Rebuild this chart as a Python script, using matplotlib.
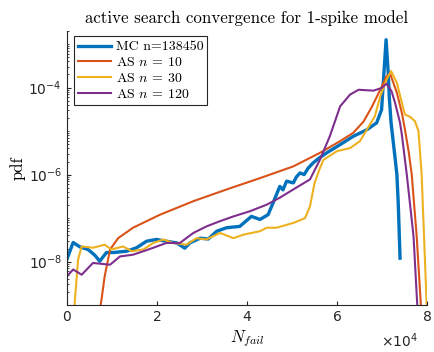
import numpy as np
import matplotlib
matplotlib.use("Agg")
import matplotlib.pyplot as plt
from matplotlib.ticker import FixedLocator, LogLocator, NullFormatter

plt.rcParams['axes.formatter.use_mathtext'] = True

# N_fail in units of 1e4, pdf as log10 values
mc_x = [0.00, 0.14, 0.29, 0.47, 0.62, 0.73, 0.88, 1.03, 1.33, 1.55, 1.77, 1.99,
        2.21, 2.44, 2.62, 2.73, 2.96, 3.14, 3.33, 3.55, 3.84, 4.10, 4.29, 4.47,
        4.58, 4.73, 4.80, 4.88, 5.03, 5.10, 5.18, 5.27, 5.36, 5.47, 5.60, 5.77,
        6.07, 6.36, 6.66, 6.88, 6.99, 7.04, 7.09, 7.14, 7.16, 7.20, 7.29, 7.33,
        7.36, 7.40]
mc_logy = [-7.95, -7.56, -7.66, -7.72, -7.85, -7.99, -7.79, -7.79, -7.76, -7.68,
           -7.53, -7.49, -7.53, -7.57, -7.69, -7.57, -7.46, -7.48, -7.30, -7.22,
           -7.19, -6.96, -7.03, -6.92, -6.65, -6.27, -6.35, -6.15, -6.19, -6.05,
           -5.96, -6.00, -5.85, -5.73, -5.62, -5.50, -5.31, -5.12, -4.97, -4.81,
           -4.51, -3.70, -2.90, -3.70, -4.20, -4.80, -5.62, -6.00, -6.65, -7.92]

as10_x = [0.72, 0.77, 0.84, 0.96, 1.14, 1.47, 2.07, 2.81, 3.55, 4.29, 5.03, 5.62,
          6.07, 6.36, 6.59, 6.77, 6.96, 7.10, 7.18, 7.33, 7.44, 7.51, 7.59, 7.66,
          7.77, 7.86, 7.88]
as10_logy = [-9.2, -8.87, -8.34, -7.72, -7.46, -7.22, -6.92, -6.61, -6.34, -6.08,
             -5.81, -5.50, -5.23, -5.04, -4.78, -4.45, -4.05, -3.74, -3.68, -4.12,
             -4.58, -4.97, -5.46, -6.00, -7.42, -8.95, -9.2]

as30_x = [0.16, 0.18, 0.25, 0.33, 0.58, 0.84, 0.99, 1.25, 1.44, 1.70, 1.92, 2.14,
          2.36, 2.66, 2.88, 3.10, 3.40, 3.70, 3.92, 4.29, 4.44, 4.66, 5.03, 5.29,
          5.40, 5.50, 5.62, 5.70, 6.00, 6.29, 6.51, 6.73, 6.84, 6.96, 7.10, 7.20,
          7.33, 7.44, 7.51, 7.62, 7.73, 7.81, 7.88, 7.99, 8.01]
as30_logy = [-9.2, -8.87, -7.95, -7.65, -7.68, -7.61, -7.72, -7.65, -7.76, -7.72,
             -7.57, -7.49, -7.57, -7.61, -7.46, -7.49, -7.34, -7.46, -7.38, -7.30,
             -7.22, -7.22, -7.11, -7.00, -6.73, -6.20, -5.85, -5.66, -5.46, -5.39,
             -5.23, -4.85, -4.66, -4.20, -3.82, -3.62, -3.89, -4.35, -4.62, -4.67,
             -4.77, -5.00, -6.00, -8.95, -9.2]

as120_x = [0.00, 0.14, 0.33, 0.58, 0.96, 1.18, 1.47, 1.70, 1.92, 2.21, 2.51, 2.81,
           3.10, 3.40, 3.70, 4.07, 4.44, 4.73, 5.03, 5.40, 5.62, 5.84, 6.07, 6.29,
           6.48, 6.81, 6.99, 7.10, 7.21, 7.29, 7.40, 7.44, 7.55, 7.70, 7.78, 7.80]
as120_logy = [-8.34, -8.18, -8.30, -8.03, -8.07, -7.88, -7.84, -7.76, -7.68, -7.57,
              -7.57, -7.34, -7.19, -7.07, -6.96, -6.84, -6.69, -6.53, -6.34, -6.11,
              -5.66, -5.12, -4.43, -4.16, -4.05, -4.07, -4.01, -3.91, -4.08, -4.35,
              -4.81, -5.08, -6.00, -7.42, -8.95, -9.2]

labels = ['MC n=138450', r'AS $n$ = 10', r'AS $n$ = 30', r'AS $n$ = 120']
colors = ['#0072BD', '#D95319', '#EDB120', '#7E2F8E']

fig = plt.figure(figsize=(4.34, 3.52), dpi=100)
ax = fig.add_axes([0.154, 0.133, 0.830, 0.779])

series = [(mc_x, mc_logy), (as10_x, as10_logy), (as30_x, as30_logy), (as120_x, as120_logy)]
for (xs, ly), lab, c in zip(series, labels, colors):
    lw = 2.4 if lab.startswith('MC') else 1.5
    ax.plot(np.array(xs), 10.0 ** np.array(ly), color=c, lw=lw, label=lab)

ax.set_yscale('log')
ax.set_xlim(0, 8)
ax.set_ylim(1e-9, 2e-3)

ax.set_xticks([0, 2, 4, 6, 8])
ax.set_xticklabels(['0', '2', '4', '6', '8'])
ax.yaxis.set_major_locator(FixedLocator([1e-8, 1e-6, 1e-4]))
ax.yaxis.set_minor_locator(LogLocator(base=10, subs=np.arange(1, 10), numticks=30))
ax.yaxis.set_minor_formatter(NullFormatter())
ax.set_yticklabels([r'$10^{-8}$', r'$10^{-6}$', r'$10^{-4}$'])
for t in ax.get_yticklabels():
    t.set_math_fontfamily('dejavusans')

ax.tick_params(which='both', direction='in', labelsize=10, colors='#262626')
ax.tick_params(which='major', length=3)
ax.tick_params(which='minor', length=1.5)
ax.spines['top'].set_visible(False)
ax.spines['right'].set_visible(False)
for s in ['left', 'bottom']:
    ax.spines[s].set_color('#262626')

ax.set_title('active search convergence for 1-spike model', fontfamily='cmr10',
             fontsize=12.2, pad=6)
ax.set_ylabel('pdf', fontfamily='cmr10', fontsize=12, labelpad=2)
xl = ax.set_xlabel(r'$N_{fail}$', fontsize=12, labelpad=3)
xl.set_math_fontfamily('cm')
ax.text(0.975, -0.095, r'$\times10^4$', transform=ax.transAxes, ha='right', va='top',
        fontsize=10, color='#262626')

leg = ax.legend(loc='upper left', bbox_to_anchor=(0.012, 0.99),
                prop={'family': 'cmr10', 'size': 10}, fancybox=False,
                edgecolor='#262626', framealpha=1, borderpad=0.3, labelspacing=0.2,
                handlelength=2.4, handletextpad=0.3, borderaxespad=0.2)
leg.get_frame().set_linewidth(0.8)
for t in leg.get_texts():
    t.set_math_fontfamily('cm')

fig.savefig('out.png', dpi=100)
